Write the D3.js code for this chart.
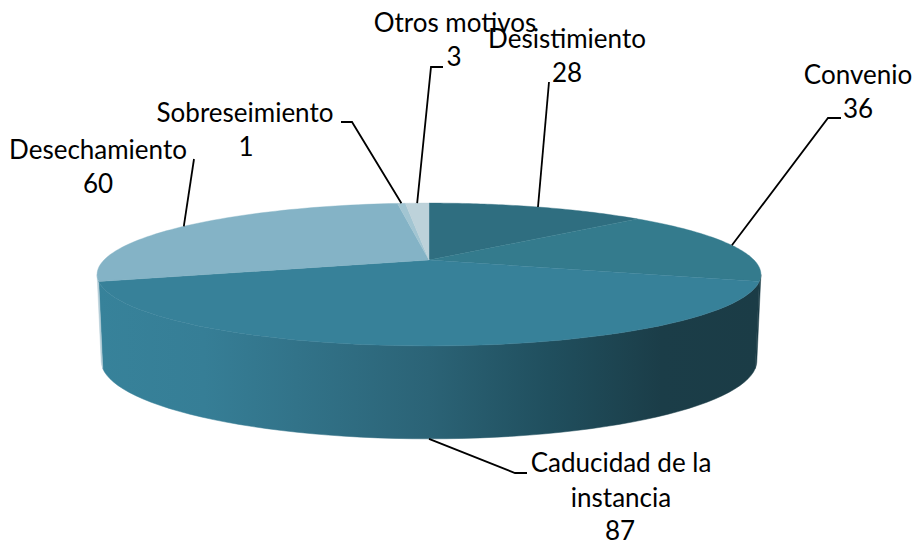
<!DOCTYPE html>
<html><head><meta charset="utf-8">
<style>html,body{margin:0;padding:0;background:#fff}svg{display:block}text{font-family:Lato,"Open Sans",sans-serif;font-size:26px;fill:#000}</style>
<script src="https://cdn.jsdelivr.net/npm/d3@7"></script>
</head><body><svg id="c" width="915" height="542"></svg>
<script>
// Data
const categories = ["Desistimiento","Convenio","Caducidad de la instancia","Desechamiento","Sobreseimiento","Otros motivos"];
const values = [28,36,87,60,1,3];
const topColors = ["#2f6e80","#347b8d","#378199","#84b3c6","#a2c5d2","#bdd2da"];
// Layout of the labels: [lines], line centres, baselines, and leader bends
const labelLines = [["Desistimiento","28"],["Convenio","36"],["Caducidad de la","instancia","87"],["Desechamiento","60"],["Sobreseimiento","1"],["Otros motivos","3"]];
const labelCentres = [[567,567],[858,858],[621,621,620],[98,98],[245,246],[455,454]];
const labelBaselines = [[48,82],[84,118],[472,507,540],[159,193],[122,156],[32,66]];
const leaderBends = [[[549,82]],[[828,118],[841,118]],[[515,473],[527,473]],[[194,159]],[[352,122],[341,122]],[[431,67],[443,67]]];

const svg = d3.select("#c");
const cx = 429;
const k = 0.203;
const upper = {A:325, B:68.5, y0:260};
const lower = {A:321, B:74.8, y0:345};
// Perspective projection of a point on the unit disc; angle clockwise from 12 o'clock
function project(a, r, p){
  const X = r*Math.sin(a), Y = -r*Math.cos(a), w = 1 - k*Y;
  return [cx + p.A*X/w, p.y0 + p.B*Y/w];
}
const arcs = d3.pie().sort(null).value(d=>d)(values);
const line = d3.line();
const rim = (a0,a1,p) => d3.range(0,61).map(i => project(a0+(a1-a0)*i/60,1,p));

const defs = svg.append("defs");
const grad = defs.append("linearGradient").attr("id","side").attr("gradientUnits","userSpaceOnUse")
  .attr("x1",98).attr("x2",761).attr("y1",0).attr("y2",0);
[[0,"#37829a"],[0.16,"#367e96"],[0.3,"#327389"],[0.5,"#2b6376"],[0.68,"#204f5e"],[0.85,"#1b3d48"],[1,"#1b3c46"]]
  .forEach(s => grad.append("stop").attr("offset",s[0]).attr("stop-color",s[1]));

// Side wall: only the part of the rim facing the viewer
const sideStart = Math.PI - Math.acos(k), sideEnd = Math.PI + Math.acos(k);
arcs.forEach((d,i) => {
  const a0 = Math.max(d.startAngle, sideStart), a1 = Math.min(d.endAngle, sideEnd);
  if (a1 <= a0) return;
  const pts = rim(a0,a1,upper).concat(rim(a1,a0,lower));
  svg.append("path").attr("d", line(pts)+"Z")
    .attr("fill", i===3 ? "#b4cdd7" : "url(#side)").attr("stroke", i===3 ? "#b4cdd7" : "url(#side)").attr("stroke-width",0.5);
});
// Top face
arcs.forEach((d,i) => {
  const pts = [[cx,upper.y0]].concat(rim(d.startAngle,d.endAngle,upper));
  svg.append("path").attr("d", line(pts)+"Z").attr("fill",topColors[i]).attr("stroke",topColors[i]).attr("stroke-width",0.4);
});
// Leader lines
arcs.forEach((d,i) => {
  const mid = (d.startAngle+d.endAngle)/2;
  const anchor = i===2 ? project(Math.PI,1,lower) : project(mid,1,upper);
  svg.append("path").attr("d", line([anchor].concat(leaderBends[i])))
    .attr("fill","none").attr("stroke","#000").attr("stroke-width",1.8);
});
// Labels
labelLines.forEach((lines,i) => lines.forEach((t,j) => {
  svg.append("text").attr("x",labelCentres[i][j]).attr("y",labelBaselines[i][j]).attr("text-anchor","middle").text(t);
}));
</script></body></html>
